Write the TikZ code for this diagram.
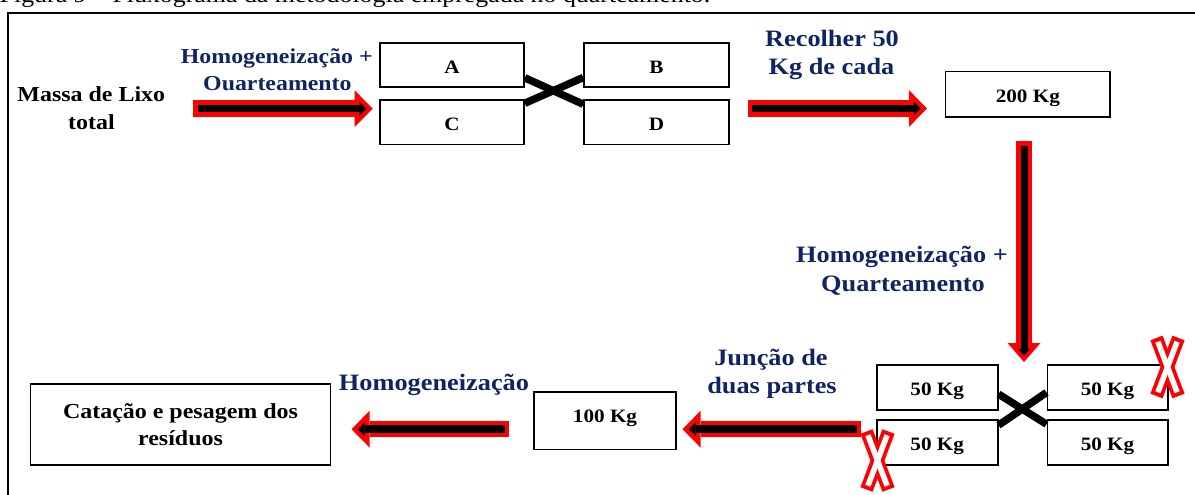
\documentclass[tikz,border=0pt]{standalone}
\usepackage{fontspec}
\setmainfont{Liberation Serif}
\newfontfamily\figfont[FakeStretch=1.12]{Liberation Serif}
\usetikzlibrary{arrows.meta}
\definecolor{navy}{RGB}{15,36,98}

% font sizes (1pt = 1 unit of the drawing)
\newcommand\fcap{\figfont\fontsize{23.1pt}{27pt}\selectfont}
\newcommand\flbl{\figfont\bfseries\fontsize{21.4pt}{27.7pt}\selectfont}
\newcommand\boxtxt{\figfont\bfseries\fontsize{18.9pt}{22pt}\selectfont}
\newcommand\fblue{\figfont\bfseries\fontsize{23.5pt}{28pt}\selectfont}
\newcommand\fbluesm{\figfont\bfseries\fontsize{21.3pt}{27.4pt}\selectfont}

\tikzset{
  framed/.style={draw, line width=1.6pt, inner sep=0pt},
  box/.style={framed, font=\boxtxt, text height=16pt, text depth=0pt},
  lbl/.style={anchor=base, inner sep=0pt, font=\flbl},
  act/.style={anchor=base, inner sep=0pt, text=navy, font=\fblue},
  actsm/.style={act, font=\fbluesm},
  % block arrow: black body with a thick red border
  flow/.style={draw=red, line width=16.5pt,
    -{Triangle[length=18pt,width=36.7pt,line width=0pt]},
    postaction={draw=black, line width=7.5pt, shorten <=4.5pt, shorten >=6.4pt,
      -{Triangle[length=6.8pt,width=13.6pt,line width=0pt]}}},
  flowv/.style={draw=red, line width=16.3pt,
    -{Triangle[length=19pt,width=33pt,line width=0pt]},
    postaction={draw=black, line width=7pt, shorten <=4.5pt, shorten >=6.6pt,
      -{Triangle[length=6.5pt,width=12pt,line width=0pt]}}},
  cross/.style={draw=black, line width=7.5pt},
  % red outlined cross marking a discarded quarter
  xmark/.pic={
    \draw[red, line width=13pt] (-11,-29) -- (11,29);
    \draw[red, line width=13pt] (11,-29) -- (-11,29);
    \draw[white, line width=5.5pt, shorten <=4pt, shorten >=4pt] (-11,-29) -- (11,29);
    \draw[white, line width=5.5pt, shorten <=4pt, shorten >=4pt] (11,-29) -- (-11,29);
  }
}

\begin{document}
\begin{tikzpicture}[x=1pt,y=-1pt]
\useasboundingbox (0,0) rectangle (1195,495);
\clip (0,0) rectangle (1195,495);

% caption and frame
\node[anchor=base west, inner sep=0pt, font=\fcap] (caption) at (-0.5,2.5)
  {Figura 9 – Fluxograma da metodologia empregada no quarteamento.};
\draw[line width=2pt] (7.5,500) -- (7.5,12.8) -- (1200,12.8);

% free labels
\node[lbl] (massa1) at (91.3,101.7) {Massa de Lixo};
\node[lbl] (massa2) at (91.5,129.3) {total};
\node[actsm] (hq1) at (276.8,63.3) {Homogeneização +};
\node[actsm] (hq2) at (277.4,90.7) {Ouarteamento};
\node[act] (rec1) at (832,46.7) {Recolher 50};
\node[act] (rec2) at (831.5,75) {Kg de cada};
\node[act] (hm1) at (902,262) {Homogeneização +};
\node[act] (hm2) at (903,291) {Quarteamento};
\node[act] (jun1) at (771,365.5) {Junção de};
\node[act] (jun2) at (772,393.5) {duas partes};
\node[act] (hom) at (434,390.5) {Homogeneização};

% boxes
\node[box, minimum width=144pt, minimum height=44pt] (A) at (452,65.3) {A};
\node[box, minimum width=144pt, minimum height=44.3pt] (C) at (452,122.2) {C};
\node[box, minimum width=145pt, minimum height=44pt] (B) at (656.5,65.3) {B};
\node[box, minimum width=145pt, minimum height=44.3pt] (D) at (656.5,122.2) {D};
\node[box, minimum width=164.3pt, minimum height=45pt] (k200) at (1027.8,94.2) {200 Kg};
\node[box, minimum width=121pt, minimum height=45pt] (q1) at (937.2,387.5) {50 Kg};
\node[box, minimum width=121pt, minimum height=45pt] (q3) at (937.2,442.5) {50 Kg};
\node[box, minimum width=120.4pt, minimum height=45pt] (q2) at (1107.5,387.5) {50 Kg};
\node[box, minimum width=120.4pt, minimum height=45pt] (q4) at (1107.5,442.5) {50 Kg};
\node[box, minimum width=142pt, minimum height=57.6pt, text depth=11.6pt] (k100) at (605,420.5) {100 Kg};
\node[framed, minimum width=300.3pt, minimum height=80.7pt, align=center, font=\flbl]
  (cat) at (180.5,424.6) {Catação e pesagem dos\\resíduos};

% crossings between the quarters
\draw[cross] ([yshift=10.3pt]A.south east) -- ([yshift=-5pt]D.north west);
\draw[cross] ([yshift=-4pt]C.north east) -- ([yshift=10.6pt]B.south west);
\draw[cross] ([yshift=16.7pt]q1.south east) -- ([yshift=-5pt]q4.north west);
\draw[cross] ([yshift=-6pt]q3.north east) -- ([yshift=18.3pt]q2.south west);

% flow arrows
\coordinate (a1s) at (193,108.7);   \coordinate (a1e) at (372.7,108.7);
\coordinate (a2s) at (747.7,108.5); \coordinate (a2e) at (927,108.5);
\coordinate (a3s) at (1024,141);    \coordinate (a3e) at (1024,362);
\coordinate (a4s) at (861,429.2);   \coordinate (a4e) at (682.5,429.2);
\coordinate (a5s) at (509,429.2);   \coordinate (a5e) at (351.5,429.2);
\draw[flow] (a1s) -- (a1e);
\draw[flow] (a2s) -- (a2e);
\draw[flowv] (a3s) -- (a3e);
\draw[flow] (a4s) -- (a4e);
\draw[flow] (a5s) -- (a5e);

% discarded quarters
\pic at (1167.5,367) {xmark};
\pic at (877.5,460.5) {xmark};
\end{tikzpicture}
\end{document}
